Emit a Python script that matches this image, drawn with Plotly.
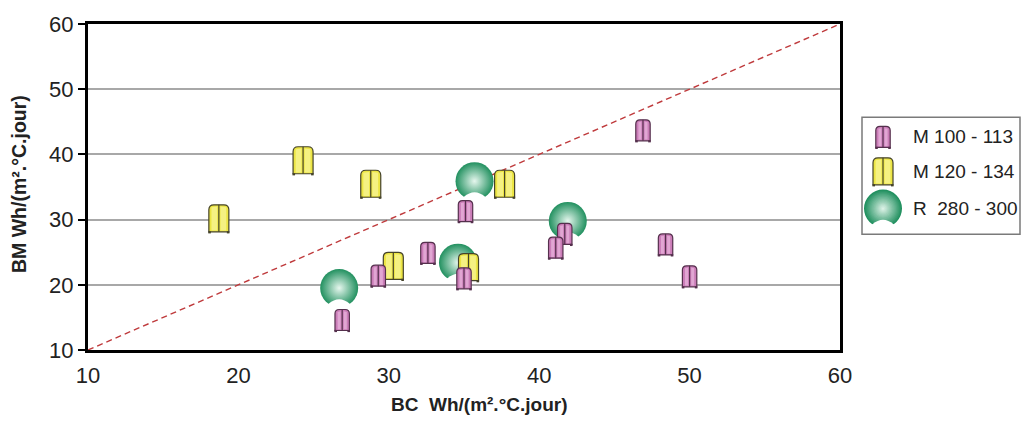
import plotly.graph_objects as go

# ---- data -------------------------------------------------------------
# series "M 100 - 113"
m100_x = [46.9, 35.1, 32.6, 29.3, 35.0, 26.9, 41.7, 41.1, 48.4, 50.0]
m100_y = [43.7, 31.3, 24.9, 21.4, 21.0, 14.6, 27.8, 25.7, 26.2, 21.3]
# series "M 120 - 134"
m120_x = [18.7, 24.3, 28.8, 30.3, 35.3, 37.7]
m120_y = [30.2, 39.1, 35.5, 22.9, 22.7, 35.5]
# series "R  280 - 300"
r280_x = [26.7, 34.6, 35.7, 41.9]
r280_y = [19.5, 23.4, 35.9, 29.8]

series_names = ["M 100 - 113", "M 120 - 134", "R\u00a0\u00a0280 - 300"]
tick_vals = [10, 20, 30, 40, 50, 60]
axis_range = [10, 60]
x_title = "BC\u00a0\u00a0Wh/(m².°C.jour)"
y_title = "BM Wh/(m².°C.jour)"

# ---- geometry / style -------------------------------------------------
W, H = 1024, 421
ML, MR, MT, MB = 88, 184, 18, 71
PW, PH = W - ML - MR, H - MT - MB

PINK = dict(fill="#cb7db8", light="#eab8de", edge="#55304d", a=7.2, b=10.5, r=4.2)
YELLOW = dict(fill="#ece544", light="#faf79c", edge="#45432a", a=10, b=13.5, r=5)
GREEN_EDGE, GREEN_CENTER = "#21905f", "#e6f7ee"
GREEN_SIZE = 38


def px_to_paper_x(px):
    return (px - ML) / PW


def px_to_paper_y(py):
    return (H - MB - py) / PH


def box_glyph(xa, ya, st, xref="x", yref="y"):
    """Rounded 'cabinet' glyph anchored at (xa, ya), sized in pixels."""
    a, b, r = st["a"], st["b"], st["r"]
    common = dict(xref=xref, yref=yref, xsizemode="pixel", ysizemode="pixel",
                  xanchor=xa, yanchor=ya, layer="above")
    body = (f"M {-a},{-b} L {-a},{b - r} Q {-a},{b} {-a + r},{b} "
            f"L {a - r},{b} Q {a},{b} {a},{b - r} L {a},{-b} Z")
    shp = [dict(type="path", path=body, fillcolor=st["fill"],
                line=dict(color=st["edge"], width=1.2), **common)]
    # soft highlight on each half of the door
    for sx in (-1, 1):
        x_in, x_out = sx * 1.6, sx * (a - 2.6)
        hl = f"M {x_in},{-b + 1.2} L {x_in},{b - 1.8} L {x_out},{b - 2.4} L {x_out},{-b + 1.2} Z"
        shp.append(dict(type="path", path=hl, fillcolor=st["light"], opacity=0.7,
                        line=dict(width=0), **common))
    shp.append(dict(type="path", path=f"M 0,{-b} L 0,{b}",
                    line=dict(color=st["edge"], width=1.2), **common))
    for sx in (-1, 1):
        foot = f"M {sx * (a + 0.6)},{-b - 1.6} L {sx * (a - 2)},{-b - 1.6} L {sx * (a - 2)},{-b + 0.6} L {sx * (a + 0.6)},{-b + 0.6} Z"
        shp.append(dict(type="path", path=foot, fillcolor=st["edge"],
                        line=dict(width=0), **common))
    return shp


def notch(xa, ya, xref="x", yref="y"):
    """White bite taken out of the bottom of the round glyph."""
    path = ("M -10.6,-15.6 Q 0,-6.6 10.6,-15.6 "
            "L 11.2,-16.4 Q 0,-25.2 -11.2,-16.4 Z")
    return dict(type="path", path=path, xref=xref, yref=yref,
                xsizemode="pixel", ysizemode="pixel", xanchor=xa, yanchor=ya,
                fillcolor="white", line=dict(width=0), layer="above")


def mix(c1, c2, t):
    c1 = [int(c1[i:i + 2], 16) for i in (1, 3, 5)]
    c2 = [int(c2[i:i + 2], 16) for i in (1, 3, 5)]
    return "rgb({},{},{})".format(*[round(p + (q - p) * t) for p, q in zip(c1, c2)])


fig = go.Figure()

# bisector y = x
fig.add_trace(go.Scatter(x=axis_range, y=axis_range, mode="lines",
                         line=dict(color="#bf3a3c", width=1.4, dash="6px,4px"),
                         hoverinfo="skip", showlegend=False))

# round glyphs with radial shading
fig.add_trace(go.Scatter(x=r280_x, y=r280_y, mode="markers", name=series_names[2],
                         marker=dict(size=GREEN_SIZE, color=GREEN_EDGE,
                                     gradient=dict(type="radial", color=GREEN_CENTER),
                                     line=dict(width=0)),
                         showlegend=False))

# carrier traces for hover on the box glyphs
for xs, ys, nm in ((m120_x, m120_y, series_names[1]), (m100_x, m100_y, series_names[0])):
    fig.add_trace(go.Scatter(x=xs, y=ys, mode="markers", name=nm,
                             marker=dict(size=18, opacity=0), showlegend=False))

shapes = []
for xv, yv in zip(r280_x, r280_y):
    shapes.append(notch(xv, yv))
for xv, yv in zip(m120_x, m120_y):
    shapes += box_glyph(xv, yv, YELLOW)
for xv, yv in zip(m100_x, m100_y):
    shapes += box_glyph(xv, yv, PINK)

# ---- legend box -------------------------------------------------------
shapes.append(dict(type="rect", xref="paper", yref="paper",
                   x0=px_to_paper_x(862), x1=px_to_paper_x(1020),
                   y0=px_to_paper_y(232), y1=px_to_paper_y(113),
                   line=dict(color="#7a7a7a", width=1.5), fillcolor="white", layer="above"))
rows_py = [133, 168, 206]
gx = px_to_paper_x(883)
shapes += box_glyph(gx, px_to_paper_y(rows_py[0]), PINK, "paper", "paper")
shapes += box_glyph(gx, px_to_paper_y(rows_py[1]), YELLOW, "paper", "paper")
n_rings = 16
for i in range(n_rings):
    rad = GREEN_SIZE / 2 * (1 - i / n_rings)
    shapes.append(dict(type="circle", xref="paper", yref="paper",
                       xsizemode="pixel", ysizemode="pixel",
                       xanchor=gx, yanchor=px_to_paper_y(rows_py[2]),
                       x0=-rad, x1=rad, y0=-rad, y1=rad,
                       fillcolor=mix(GREEN_EDGE, GREEN_CENTER, i / n_rings),
                       line=dict(width=0), layer="above"))
shapes.append(notch(gx, px_to_paper_y(rows_py[2]), "paper", "paper"))

annotations = []
for nm, py in zip(series_names, rows_py):
    annotations.append(dict(text=nm, xref="paper", yref="paper",
                            x=px_to_paper_x(911), y=px_to_paper_y(py),
                            xanchor="left", yanchor="middle", showarrow=False,
                            font=dict(family="Liberation Sans, Arial", size=19, color="#222")))

annotations.append(dict(text=f"<b>{x_title}</b>", xref="paper", yref="paper",
                        x=px_to_paper_x(479), y=px_to_paper_y(405),
                        xanchor="center", yanchor="middle", showarrow=False,
                        font=dict(family="Liberation Sans, Arial", size=19, color="#222")))
annotations.append(dict(text=f"<b>{y_title}</b>", xref="paper", yref="paper",
                        x=px_to_paper_x(19), y=px_to_paper_y(181), textangle=-90,
                        xanchor="center", yanchor="middle", showarrow=False,
                        font=dict(family="Liberation Sans, Arial", size=19.5, color="#222")))

fig.update_layout(
    width=W, height=H,
    margin=dict(l=ML, r=MR, t=MT, b=MB, pad=0),
    paper_bgcolor="white", plot_bgcolor="white",
    showlegend=False,
    shapes=shapes, annotations=annotations,
    xaxis=dict(range=axis_range, tickvals=tick_vals, showgrid=False, zeroline=False,
               showline=True, linecolor="black", linewidth=3, mirror=True,
               ticks="outside", ticklen=4, tickcolor="white",
               tickfont=dict(family="Liberation Sans, Arial", size=22, color="#222")),
    yaxis=dict(range=axis_range, tickvals=tick_vals, showgrid=True, gridcolor="#a8a8a8",
               gridwidth=1.5, zeroline=False,
               showline=True, linecolor="black", linewidth=3, mirror=True,
               ticks="outside", ticklen=7, tickwidth=2, tickcolor="black",
               tickfont=dict(family="Liberation Sans, Arial", size=22, color="#222")),
)

fig.write_html("out.html")
